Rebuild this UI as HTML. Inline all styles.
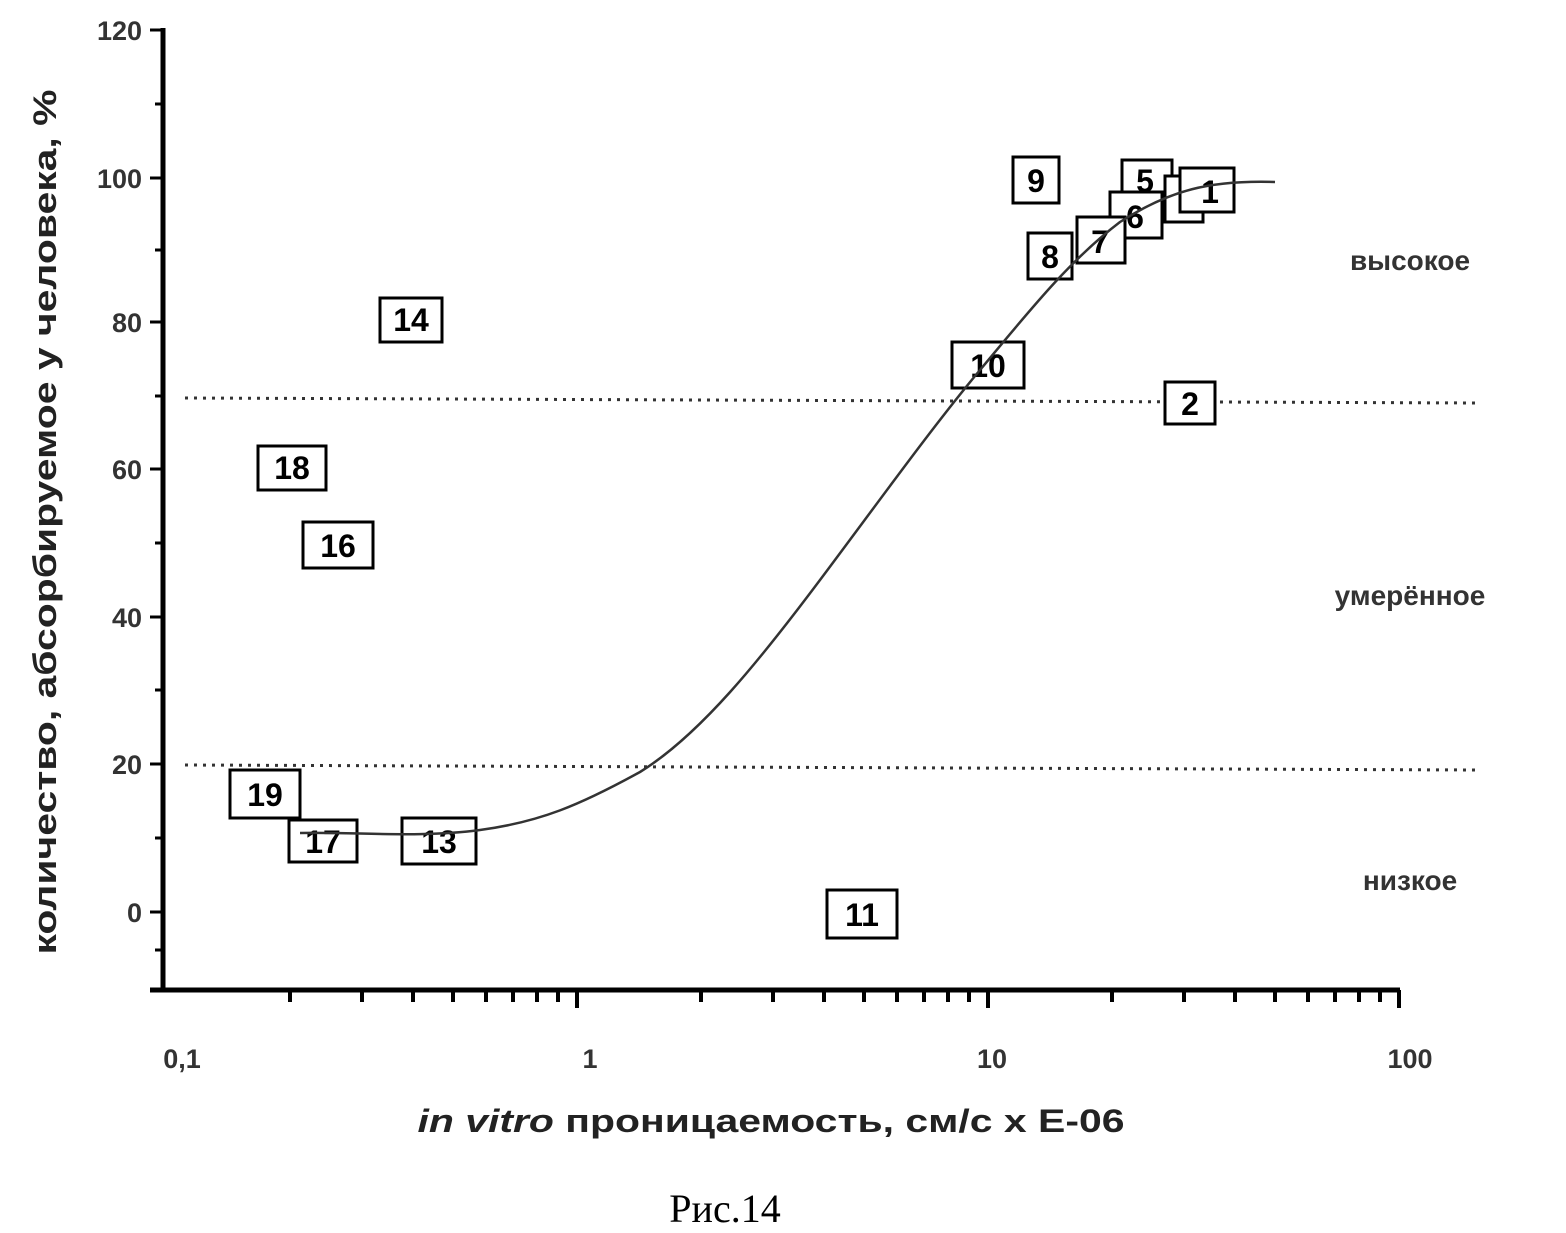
<!DOCTYPE html>
<html><head><meta charset="utf-8"><style>
html,body{margin:0;padding:0;background:#fff;}
svg{display:block;}
.b{font-family:"Liberation Sans",sans-serif;font-weight:bold;}
</style></head><body>
<svg width="1566" height="1233" viewBox="0 0 1566 1233" xmlns="http://www.w3.org/2000/svg">
<g stroke="#000" fill="none">
<line x1="163" y1="28" x2="163" y2="992" stroke-width="5"/>
<line x1="150" y1="990" x2="1400" y2="990" stroke-width="5"/>
<g stroke-width="3">
<line x1="150" y1="30" x2="163" y2="30"/><line x1="150" y1="178" x2="163" y2="178"/>
<line x1="150" y1="322" x2="163" y2="322"/><line x1="150" y1="469" x2="163" y2="469"/>
<line x1="150" y1="617" x2="163" y2="617"/><line x1="150" y1="764" x2="163" y2="764"/>
<line x1="150" y1="912" x2="163" y2="912"/>
<line x1="155" y1="104" x2="163" y2="104"/><line x1="155" y1="250" x2="163" y2="250"/>
<line x1="155" y1="396" x2="163" y2="396"/><line x1="155" y1="543" x2="163" y2="543"/>
<line x1="155" y1="690" x2="163" y2="690"/><line x1="155" y1="838" x2="163" y2="838"/>
<line x1="155" y1="950" x2="163" y2="950"/>
</g>
</g>
<g stroke="#000" stroke-width="4">
<line x1="290" y1="990" x2="290" y2="1002"/><line x1="362" y1="990" x2="362" y2="1002"/><line x1="413" y1="990" x2="413" y2="1002"/><line x1="453" y1="990" x2="453" y2="1002"/><line x1="486" y1="990" x2="486" y2="1002"/><line x1="513" y1="990" x2="513" y2="1002"/><line x1="537" y1="990" x2="537" y2="1002"/><line x1="558" y1="990" x2="558" y2="1002"/>
<line x1="577" y1="990" x2="577" y2="1008"/>
<line x1="701" y1="990" x2="701" y2="1002"/><line x1="773" y1="990" x2="773" y2="1002"/><line x1="824" y1="990" x2="824" y2="1002"/><line x1="864" y1="990" x2="864" y2="1002"/><line x1="897" y1="990" x2="897" y2="1002"/><line x1="924" y1="990" x2="924" y2="1002"/><line x1="948" y1="990" x2="948" y2="1002"/><line x1="969" y1="990" x2="969" y2="1002"/>
<line x1="988" y1="990" x2="988" y2="1008"/>
<line x1="1112" y1="990" x2="1112" y2="1002"/><line x1="1184" y1="990" x2="1184" y2="1002"/><line x1="1235" y1="990" x2="1235" y2="1002"/><line x1="1275" y1="990" x2="1275" y2="1002"/><line x1="1308" y1="990" x2="1308" y2="1002"/><line x1="1335" y1="990" x2="1335" y2="1002"/><line x1="1359" y1="990" x2="1359" y2="1002"/><line x1="1380" y1="990" x2="1380" y2="1002"/>
<line x1="1399" y1="990" x2="1399" y2="1008"/>
</g>
<g class="b" font-size="27" fill="#333" text-anchor="end">
<text x="142" y="40">120</text><text x="142" y="188">100</text><text x="142" y="332">80</text>
<text x="142" y="479">60</text><text x="142" y="627">40</text><text x="142" y="774">20</text><text x="142" y="922">0</text>
</g>
<g class="b" font-size="27" fill="#333" text-anchor="middle">
<text x="182" y="1068">0,1</text><text x="590" y="1068">1</text><text x="992" y="1068">10</text><text x="1410" y="1068">100</text>
</g>
<g stroke="#333" stroke-width="3" stroke-dasharray="3,6">
<line x1="185" y1="398" x2="1475" y2="403"/>
<line x1="185" y1="765" x2="1475" y2="770"/>
</g>
<g class="b" font-size="32" text-anchor="middle">
<g fill="#fff" stroke="#000" stroke-width="3">
<rect x="1013" y="157" width="46" height="46"/>
<rect x="1122" y="160" width="50" height="40"/>
<rect x="1165" y="176" width="38" height="46"/>
<rect x="1180" y="168" width="54" height="44"/>
<rect x="1110" y="192" width="52" height="46"/>
<rect x="1077" y="217" width="48" height="46"/>
<rect x="1028" y="233" width="44" height="46"/>
<rect x="952" y="342" width="72" height="46"/>
<rect x="1165" y="382" width="50" height="42"/>
<rect x="380" y="298" width="62" height="44"/>
<rect x="258" y="446" width="68" height="44"/>
<rect x="303" y="522" width="70" height="46"/>
<rect x="230" y="770" width="70" height="48"/>
<rect x="289" y="820" width="68" height="42"/>
<rect x="402" y="818" width="74" height="46"/>
<rect x="827" y="890" width="70" height="48"/>
</g>
<text x="1036" y="192">9</text><text x="1145" y="192">5</text><text x="1210" y="203">1</text>
<text x="1135" y="228">6</text><text x="1100" y="253">7</text><text x="1050" y="268">8</text>
<text x="988" y="377">10</text><text x="1190" y="415">2</text><text x="411" y="331">14</text>
<text x="292" y="479">18</text><text x="338" y="557">16</text><text x="265" y="806">19</text>
<text x="323" y="853">17</text><text x="439" y="853">13</text><text x="862" y="926">11</text>
</g>
<path d="M300,833 C360,832 420,838 480,830 C540,822 580,805 640,772 C700,735 760,660 820,580 C880,500 930,430 980,370 C1030,310 1070,260 1120,222 C1170,190 1210,180 1275,182" stroke="#333" stroke-width="2.5" fill="none"/>
<g class="b" font-size="28" fill="#333" text-anchor="middle">
<text x="1410" y="270">высокое</text><text x="1410" y="605">умерённое</text><text x="1410" y="890">низкое</text>
</g>
<text class="b" font-size="32" fill="#222" text-anchor="middle" textLength="865" lengthAdjust="spacingAndGlyphs" transform="translate(56,522) rotate(-90)">количество, абсорбируемое у человека, %</text>
<text class="b" font-size="32" fill="#222" text-anchor="middle" x="771" y="1132" textLength="707" lengthAdjust="spacingAndGlyphs"><tspan font-style="italic">in vitro</tspan> проницаемость, см/с х Е-06</text>
<text font-family="Liberation Serif,serif" font-size="40" text-anchor="middle" x="725" y="1222">Рис.14</text>
</svg>
</body></html>
